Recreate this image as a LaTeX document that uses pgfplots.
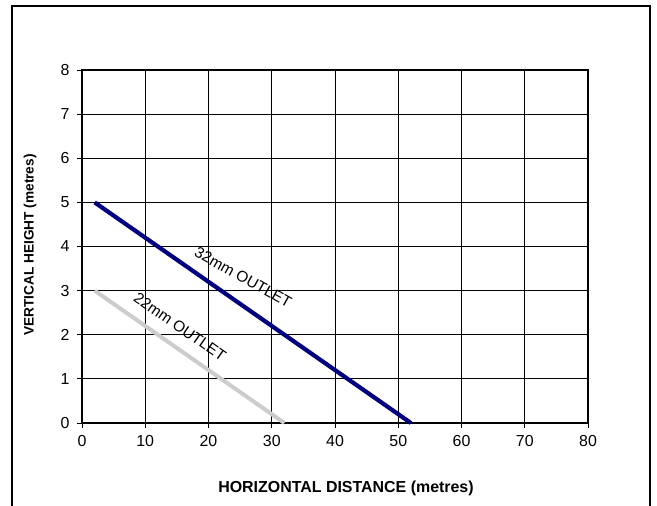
\documentclass[border=0pt]{standalone}
\usepackage{pgfplots}
\pgfplotsset{compat=1.18}
\usepackage{fontspec}
\setmainfont{Liberation Sans}
\definecolor{navyline}{RGB}{0,0,128}
\definecolor{greyline}{RGB}{204,204,204}
\begin{document}
\begin{tikzpicture}[x=1bp,y=1bp]
\useasboundingbox (0,0) rectangle (657,-506);
\draw[line width=1.2bp] (12,-506) -- (12,-6) -- (650,-6) -- (650,-506);
\begin{axis}[
  at={(82bp,-423bp)}, anchor=south west,
  scale only axis, width=506bp, height=353bp,
  xmin=0, xmax=80, ymin=0, ymax=8,
  xtick={0,10,...,80}, ytick={0,1,...,8},
  xtick pos=bottom, ytick pos=left,
  grid=major,
  major grid style={black, line width=0.8bp},
  axis line style={black, line width=1.4bp},
  tick align=outside, major tick length=5bp,
  tick style={black, line width=0.8bp},
  x tick label style={yshift=-4bp},
  y tick label style={xshift=-4bp},
  ticklabel style={font=\fontsize{16}{18}\selectfont},
  /pgf/number format/assume math mode=true,
  clip=false,
]
\addplot[navyline, line width=4.2bp] coordinates {(2,5) (52,0)};
\addplot[greyline, line width=4bp] coordinates {(2,3) (32,0)};
\node[rotate=-29.1, font=\fontsize{15.5}{17}\selectfont] at (axis cs:25.5,3.3) {32mm OUTLET};
\node[rotate=-34.8, font=\fontsize{15.5}{17}\selectfont] at (axis cs:15.5,2.18) {22mm OUTLET};
\end{axis}
\node[font=\bfseries\fontsize{16}{18}\selectfont] at (346,-488) {HORIZONTAL DISTANCE (metres)};
\node[font=\bfseries\fontsize{13.7}{15}\selectfont, rotate=90] at (30,-245) {VERTICAL HEIGHT (metres)};
\end{tikzpicture}
\end{document}
